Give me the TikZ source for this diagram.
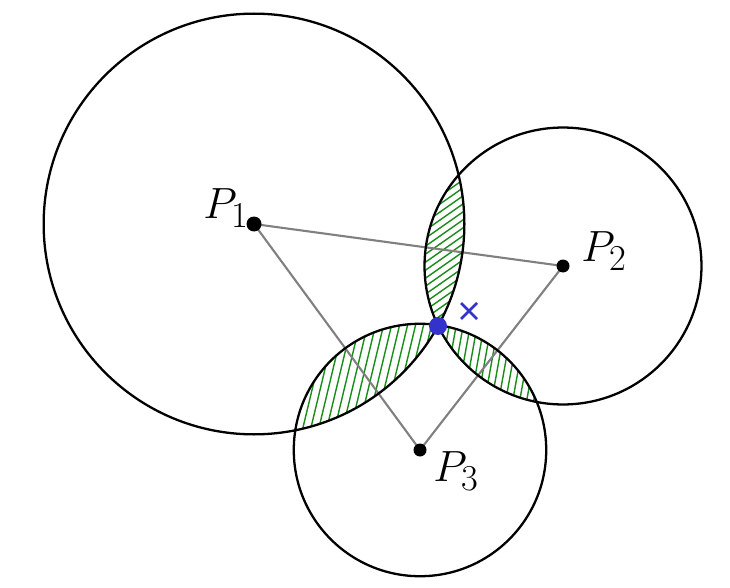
\documentclass[tikz,border=0pt]{standalone}
\usepackage{amsmath}
\usetikzlibrary{positioning}
\tikzset{circ/.style = {fill, circle, inner sep = 0, minimum size = 0.3cm}}
\tikzset{ring/.style = {draw = black, line width = 1.3pt}}
\tikzset{link/.style = {draw = gray, line width = 1.2pt}}
\tikzset{hatch/.style = {mgreen, line width = 0.8pt}}
\tikzset{lbl/.style = {font = \Huge}}
\definecolor{mblue}{rgb}{0.2, 0.2, 0.8}
\definecolor{mgreen}{rgb}{0.1, 0.55, 0.1}

\begin{document}
\begin{tikzpicture}[x = 0.02cm, y = -0.02cm]
    \useasboundingbox (0, 0) rectangle (730, 588);
    \coordinate (p1) at (254, 224);
    \coordinate (p2) at (563, 266);
    \coordinate (p3) at (420, 450);
    \coordinate (x) at (438, 326);
    \coordinate (xmark) at (469, 311);

    \begin{scope}
      \clip (p1) circle (4.208cm);
      \clip (p2) circle (2.77cm);
      \foreach \y in {160, 168, ..., 390} \draw [hatch] (400, \y) -- ++(80, -56);
    \end{scope}
    \begin{scope}
      \clip (p1) circle (4.208cm);
      \clip (p3) circle (2.525cm);
      \foreach \x in {260, 268, ..., 450} \draw [hatch] (\x, 440) -- ++(30, -125);
    \end{scope}
    \begin{scope}
      \clip (p2) circle (2.77cm);
      \clip (p3) circle (2.525cm);
      \foreach \x in {420, 427, ..., 540} \draw [hatch] (\x, 410) -- ++(18, -100);
    \end{scope}

    \draw [link] (p1) -- (p2) -- (p3) -- cycle;

    \draw [ring] (p1) circle (4.208cm);
    \draw [ring] (p2) circle (2.77cm);
    \draw [ring] (p3) circle (2.525cm);

    \node [circ] (d1) at (p1) {};
    \node [circ, minimum size = 0.26cm] (d2) at (p2) {};
    \node [circ, minimum size = 0.26cm] (d3) at (p3) {};
    \node [circ, mblue, minimum size = 0.36cm] (dx) at (x) {};
    \draw [mblue, line width = 1.5pt] (xmark) ++(-8, -8) -- ++(16, 16);
    \draw [mblue, line width = 1.5pt] (xmark) ++(8, -8) -- ++(-16, 16);

    \node [lbl] (l1) at (226, 208) {$P_1$};
    \node [lbl] (l2) at (604, 251) {$P_2$};
    \node [lbl] (l3) at (456, 471) {$P_3$};
  \end{tikzpicture}
\end{document}
